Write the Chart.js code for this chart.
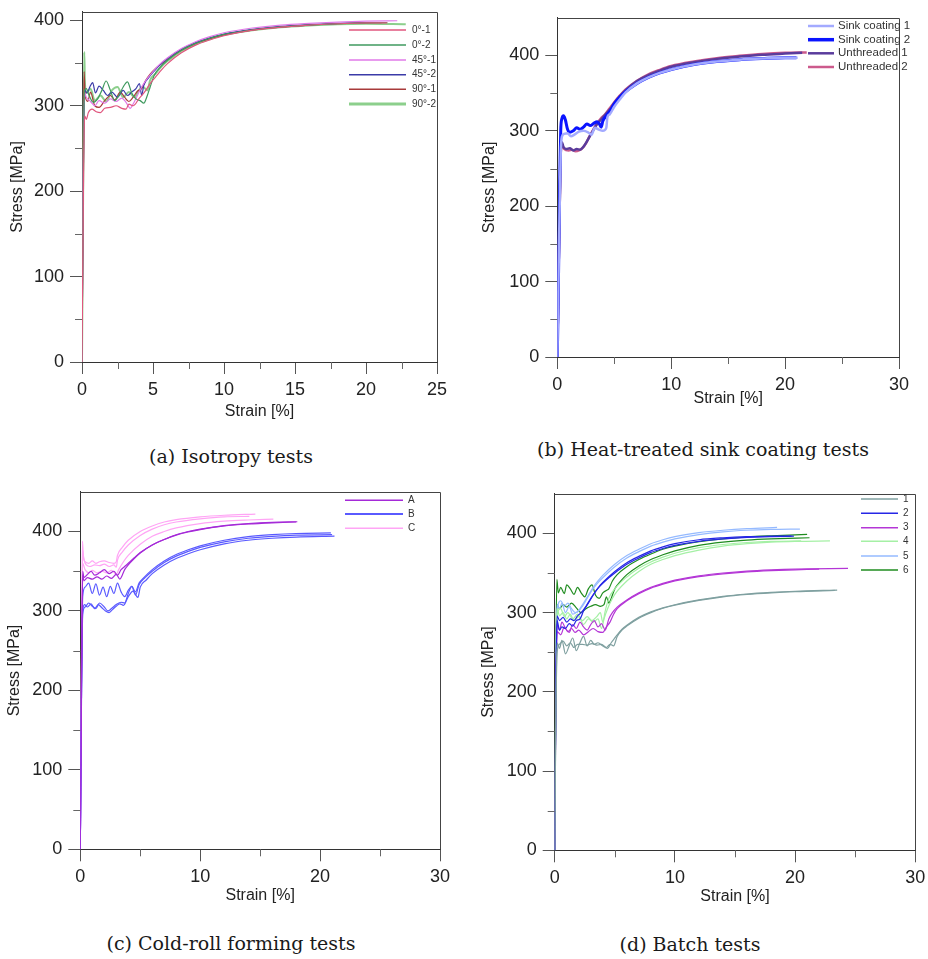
<!DOCTYPE html>
<html>
<head>
<meta charset="utf-8">
<title>Tensile tests</title>
<script src="https://cdn.jsdelivr.net/npm/chart.js@4.4.1/dist/chart.umd.min.js"></script>
<style>
  body { margin: 0; width: 928px; height: 959px; background: #fff; position: relative; overflow: hidden; }
  canvas { position: absolute; }
  .cap { position: absolute; font-family: 'DejaVu Serif', serif; font-size: 19px; color: #1a1a1a;
         white-space: nowrap; transform: translate(-50%, -50%); }
</style>
</head>
<body>
<canvas id="chart-a"></canvas>
<canvas id="chart-b"></canvas>
<canvas id="chart-c"></canvas>
<canvas id="chart-d"></canvas>
<div class="cap" style="left:231px;top:456px">(a) Isotropy tests</div>
<div class="cap" style="left:703px;top:449px">(b) Heat-treated sink coating tests</div>
<div class="cap" style="left:231px;top:943px">(c) Cold-roll forming tests</div>
<div class="cap" style="left:690px;top:944px">(d) Batch tests</div>

<script>
// ---- tick labels ----
var yTicks = [0, 100, 200, 300, 400];
var yMinor = [50, 150, 250, 350];
var xTicksA = [0, 5, 10, 15, 20, 25];
var xMinorA = [2.5, 7.5, 12.5, 17.5, 22.5];
var xTicks30 = [0, 10, 20, 30];
var xMinor30 = [5, 15, 25];

// ---- (a) isotropy tests: [strain %, stress MPa] ----
var iso0_1 = [[0,0],[0.1,200],[0.15,270],[0.2,288],[0.3,284],[0.45,292],[0.7,296],[1.0,293],[1.3,292],[1.6,297],[2.0,298],[2.4,300],[2.8,297],[3.1,296],[3.3,302],[3.6,300],[4.0,308],[4.4,316],[4.8,326],[5.2,334],[5.6,342],[6,349],[7,362],[8,371],[9,377],[10,382],[12,388.5],[14,392],[16,394.5],[18,396],[20,397],[21.5,397]];
var iso0_2 = [[0,0],[0.1,220],[0.17,318],[0.3,320],[0.5,312],[0.8,304],[1.1,308],[1.4,318],[1.7,329],[2.0,318],[2.3,306],[2.6,312],[2.9,322],[3.2,328],[3.5,315],[3.8,308],[4.1,306],[4.35,303],[4.6,312],[4.8,322],[5.1,336],[5.5,345],[6,353],[7,365],[8,373],[9,379],[10,383.5],[12,389],[14,392.5],[16,394.5],[18,396],[20,397],[21.5,397.5]];
var iso45_1 = [[0,0],[0.1,240],[0.18,315],[0.3,310],[0.6,305],[0.9,300],[1.2,306],[1.6,303],[2.0,308],[2.4,305],[2.8,309],[3.1,304],[3.4,297],[3.6,302],[3.9,312],[4.2,322],[4.6,332],[5,340],[5.5,349],[6,356],[7,367],[8,375],[9,381],[10,385.5],[12,391],[14,394.5],[16,396.5],[18,398],[20,399],[22.2,399.5]];
var iso45_2 = [[0,0],[0.1,230],[0.2,318],[0.35,315],[0.55,322],[0.75,327],[0.95,315],[1.2,323],[1.5,318],[1.8,312],[2.1,316],[2.5,310],[2.9,318],[3.2,312],[3.5,316],[3.8,320],[4.05,326],[4.2,312],[4.35,324],[4.7,333],[5,339],[5.5,348],[6,355],[7,366],[8,374],[9,379.5],[10,384],[12,389.5],[14,393],[16,395],[18,396.5],[20,397.5],[21.0,397.5]];
var iso90_1 = [[0,0],[0.1,260],[0.15,340],[0.22,312],[0.4,305],[0.6,316],[0.9,300],[1.2,298],[1.6,306],[2.0,312],[2.3,307],[2.7,316],[3.0,310],[3.3,305],[3.6,310],[3.9,317],[4.2,320],[4.5,330],[4.8,337],[5.2,344],[6,354],[7,365],[8,373],[9,378.5],[10,383],[12,388.5],[14,392],[16,394.5],[18,396],[20,397],[21.1,397.3]];
var iso90_2 = [[0,0],[0.1,250],[0.16,363],[0.2,330],[0.3,315],[0.6,320],[0.9,306],[1.3,312],[1.7,305],[2.1,318],[2.5,322],[2.9,310],[3.3,316],[3.7,310],[4.0,318],[4.3,322],[4.6,318],[4.8,330],[5.2,338],[5.6,346],[6,352],[7,364],[8,372],[9,378],[10,383],[12,388.5],[14,392],[16,394],[18,395.5],[20,396],[22.8,395.5]];

// ---- (b) heat-treated sink coating tests ----
var sink1 = [[0,0],[0.15,150],[0.3,270],[0.4,292],[0.6,296],[0.9,297],[1.2,293],[1.5,295],[1.9,299],[2.3,300],[2.7,298],[3.0,295],[3.3,304],[3.6,302],[4.0,300],[4.3,304],[4.4,318],[4.6,322],[5,332],[5.5,342],[6,351],[7,363],[8,371],[9,377],[10,381.5],[12,388],[14,392],[16,394.5],[18,396],[20,397],[21.1,397]];
var sink2 = [[0,0],[0.1,100],[0.2,220],[0.3,300],[0.4,316],[0.55,320],[0.7,315],[0.9,302],[1.1,298],[1.4,300],[1.7,304],[2.0,302],[2.3,305],[2.6,309],[2.9,307],[3.2,310],[3.5,312],[3.7,309],[3.85,305],[4.0,313],[4.3,320],[4.7,328],[5,336],[5.5,345],[6,352],[7,363],[8,371],[9,377],[10,381.5],[12,388],[14,392],[16,394.5],[18,396],[20,397],[21,397]];
var unthr1 = [[0,0],[0.15,150],[0.3,270],[0.4,285],[0.55,278],[0.8,276],[1.1,277],[1.4,274],[1.7,276],[2.0,275],[2.3,279],[2.6,286],[2.9,294],[3.2,302],[3.5,309],[3.9,316],[4.3,323],[4.7,330],[5,337],[5.5,346],[6,354],[7,366],[8,374],[9,380],[10,385],[12,391],[14,395.5],[16,398.5],[18,401],[20,402.5],[21.5,403.5]];
var unthr2 = [[0,0],[0.15,150],[0.3,268],[0.4,282],[0.6,276],[1.0,274],[1.3,275],[1.6,273],[1.9,274],[2.2,277],[2.5,283],[2.8,292],[3.1,300],[3.4,308],[3.8,316],[4.2,322],[4.6,330],[5,338],[5.5,347],[6,355],[7,366.5],[8,375],[9,381],[10,386],[12,392],[14,396.5],[16,399.5],[18,402],[20,403.5],[21.9,404]];

// ---- (c) cold-roll forming tests ----
var rollA1 = [[0,0],[0.1,200],[0.2,345],[0.3,338],[0.6,342],[1.0,340],[1.4,343],[1.8,340],[2.2,344],[2.6,341],[3.0,346],[3.3,340],[3.5,345],[3.7,352],[4.0,358],[4.5,366],[5,373],[6,383],[7,390],[8,396],[9,400],[10,403],[12,407.5],[14,410],[16,411.5],[18.1,412.3]];
var rollA2 = [[0,0],[0.1,220],[0.2,350],[0.3,342],[0.6,346],[0.9,350],[1.2,345],[1.6,348],[2.0,352],[2.4,347],[2.8,350],[3.1,345],[3.4,352],[3.7,356],[4.0,360],[4.5,367],[5,373.5],[6,383],[7,390],[8,395.5],[9,399.5],[10,402.5],[12,407],[14,409.5],[16,411],[18,412]];
var rollB1 = [[0,0],[0.1,200],[0.2,318],[0.4,330],[0.7,335],[1.0,322],[1.3,334],[1.6,320],[1.9,330],[2.2,318],[2.5,331],[2.8,322],[3.1,335],[3.4,324],[3.7,318],[4.0,326],[4.3,331],[4.6,324],[4.9,335],[5.3,342],[6,352],[7,363],[8,371],[9,377],[10,382],[12,389],[14,393.5],[16,396],[18,397.5],[20.9,398.3]];
var rollB2 = [[0,0],[0.1,200],[0.2,300],[0.35,308],[0.6,305],[0.9,309],[1.2,303],[1.5,308],[1.8,304],[2.1,300],[2.4,298],[2.7,302],[3.0,306],[3.3,309],[3.6,307],[4.0,318],[4.4,325],[4.8,317],[5.0,330],[5.5,339],[6,347],[7,358],[8,366],[9,372],[10,377],[12,384.5],[14,389],[16,391.5],[18,393],[21.2,394.2]];
var rollB3 = [[0,0],[0.1,190],[0.2,296],[0.4,305],[0.7,310],[1.0,306],[1.3,303],[1.6,310],[2.0,305],[2.3,300],[2.6,303],[3.0,308],[3.4,311],[3.7,310],[4.0,322],[4.3,331],[4.6,320],[4.9,333],[5.4,342],[6,350],[7,361],[8,369],[9,375],[10,380],[12,387],[14,391.5],[16,394],[18,395.5],[21.0,396]];
var rollC1 = [[0,0],[0.1,250],[0.18,388],[0.25,370],[0.4,362],[0.7,360],[1.0,363],[1.3,360],[1.6,362],[2.0,363],[2.4,361],[2.8,360],[3.0,362],[3.1,370],[3.5,380],[4,389],[5,400],[6,407],[7,412],[8,415],[10,418.5],[12,420.5],[14.6,422]];
var rollC2 = [[0,0],[0.1,240],[0.2,376],[0.3,365],[0.5,358],[0.8,356],[1.2,358],[1.6,357],[2.0,359],[2.4,356],[2.8,358],[3.0,355],[3.1,364],[3.5,374],[4,383],[5,395],[6,403],[7,408.5],[8,412],[10,416],[12,418.5],[14.1,419]];
var rollC3 = [[0,0],[0.1,230],[0.2,360],[0.4,352],[0.7,348],[1.0,351],[1.4,348],[1.8,350],[2.2,348],[2.6,351],[3.0,346],[3.2,352],[3.6,362],[4,370],[5,384],[6,394],[7,400],[8,404.5],[10,410],[12,413],[14,414.5],[16.1,415.5]];

// ---- (d) batch tests ----
var batch1a = [[0,0],[0.1,180],[0.2,262],[0.4,255],[0.6,265],[0.9,248],[1.2,258],[1.5,268],[1.8,252],[2.1,262],[2.4,270],[2.7,258],[3.0,265],[3.3,260],[3.6,262],[4.0,258],[4.4,255],[4.7,262],[5.0,268],[5.2,272],[5.6,279],[6,284],[7,294],[8,301],[9,306],[10,310],[12,316],[14,320.5],[16,323.5],[18,325.5],[20,327],[23.5,328.5]];
var batch1b = [[0,0],[0.1,170],[0.2,250],[0.4,260],[0.7,264],[1.0,258],[1.3,262],[1.6,256],[1.9,260],[2.3,260],[2.7,259],[3.1,261],[3.5,259],[3.9,260],[4.3,256],[4.6,260],[4.9,258],[5.2,270],[5.6,278],[6,283],[7,293],[8,300],[9,305.5],[10,309.5],[12,315.5],[14,320],[16,323],[18,325],[20,326.5],[23.3,328]];
var batch2a = [[0,0],[0.1,200],[0.2,290],[0.4,278],[0.6,282],[0.9,280],[1.2,286],[1.5,283],[1.8,290],[2.1,292],[2.4,302],[2.8,312],[3.2,322],[3.6,331],[4,338],[5,352],[6,363],[7,371],[8,378],[9,383],[10,387],[12,392],[14,394.5],[16,396],[18,396.5],[19.7,396.7]];
var batch2b = [[0,0],[0.1,210],[0.2,296],[0.4,290],[0.7,294],[1.0,288],[1.3,292],[1.6,290],[1.9,296],[2.2,300],[2.6,308],[3.0,318],[3.4,327],[3.8,334],[4.2,340],[5,350],[6,361],[7,369],[8,376],[9,381],[10,385],[12,390],[14,393],[16,395],[18,396],[19.9,396.5]];
var batch3a = [[0,0],[0.1,200],[0.2,285],[0.4,278],[0.6,288],[0.9,280],[1.2,275],[1.5,285],[1.8,280],[2.1,288],[2.4,282],[2.7,278],[3.0,285],[3.3,290],[3.6,282],[3.9,286],[4.2,278],[4.5,292],[4.8,300],[5.2,307],[6,316],[7,325],[8,332],[9,337],[10,341],[12,346.5],[14,350],[16,352.5],[18,354],[20,355],[24.4,355.8]];
var batch3b = [[0,0],[0.1,190],[0.2,276],[0.5,272],[0.8,282],[1.1,276],[1.4,280],[1.7,275],[2.0,278],[2.4,272],[2.8,276],[3.2,280],[3.6,276],[4.0,275],[4.3,282],[4.6,288],[4.9,298],[5.2,305],[6,315],[7,324],[8,331],[9,336],[10,340],[12,345.5],[14,349],[16,351.5],[18,353],[20,354],[22,355]];
var batch4a = [[0,0],[0.1,220],[0.2,305],[0.4,296],[0.7,300],[1.0,292],[1.3,298],[1.6,290],[2.0,295],[2.4,285],[2.8,292],[3.2,288],[3.6,292],[3.9,280],[4.1,292],[4.4,305],[4.8,318],[5.2,327],[6,340],[7,352],[8,361],[9,367],[10,372],[12,379],[14,384],[16,387],[18,389],[20,390],[22.9,390.5]];
var batch4b = [[0,0],[0.1,210],[0.2,298],[0.5,305],[0.8,295],[1.1,300],[1.5,292],[1.9,298],[2.3,290],[2.7,295],[3.1,290],[3.5,295],[3.8,300],[4.0,288],[4.2,302],[4.5,318],[5,330],[6,345],[7,356],[8,364],[9,370],[10,375],[12,382],[14,386],[16,388.5],[18,390],[20.5,390.5]];
var batch5a = [[0,0],[0.1,230],[0.2,310],[0.4,305],[0.6,312],[0.9,300],[1.2,308],[1.5,298],[1.8,300],[2.0,303],[2.4,312],[2.8,322],[3.2,332],[3.6,340],[4,347],[5,361],[6,372],[7,380],[8,387],[9,392],[10,396],[12,401],[14,404],[16,406],[18.5,407.5]];
var batch5b = [[0,0],[0.1,220],[0.2,302],[0.5,315],[0.8,308],[1.1,312],[1.4,305],[1.7,300],[2.0,302],[2.3,308],[2.7,318],[3.1,328],[3.5,336],[4,344],[5,358],[6,369],[7,377],[8,384],[9,389],[10,393],[12,398.5],[14,402],[16,404],[18,405],[20.4,405.5]];
var batch6a = [[0,0],[0.1,250],[0.18,342],[0.3,325],[0.5,332],[0.8,324],[1.0,335],[1.3,330],[1.6,323],[1.9,332],[2.2,325],[2.5,320],[2.8,330],[3.1,335],[3.4,322],[3.7,318],[4.0,325],[4.3,328],[4.5,330],[4.8,340],[5.2,348],[6,358],[7,367],[8,374],[9,380],[10,384],[12,389.5],[14,393],[16,395.5],[18,397],[21,398.7]];
var batch6b = [[0,0],[0.1,230],[0.2,310],[0.4,305],[0.7,310],[1.0,307],[1.4,312],[1.8,306],[2.2,300],[2.6,305],[3.0,308],[3.4,310],[3.8,308],[4.1,310],[4.3,320],[4.5,312],[4.7,318],[5.0,330],[5.5,340],[6,348],[7,359],[8,367],[9,373],[10,378],[12,385],[14,389],[16,391.5],[18,393],[21.2,394.5]];

// outline of the plot box: top and right edges
var framePlugin = {
  id: 'frame',
  afterDraw: function(chart) {
    var a = chart.chartArea, ctx = chart.ctx;
    ctx.save();
    ctx.strokeStyle = '#444';
    ctx.lineWidth = 1;
    ctx.beginPath();
    ctx.moveTo(a.left, Math.round(a.top) + 0.5);
    ctx.lineTo(Math.round(a.right) + 0.5, Math.round(a.top) + 0.5);
    ctx.lineTo(Math.round(a.right) + 0.5, a.bottom);
    ctx.stroke();
    ctx.restore();
  }
};

// short ticks between the labelled ones
var minorTickPlugin = {
  id: 'minorTicks',
  afterDraw: function(chart, args, opts) {
    var a = chart.chartArea, ctx = chart.ctx;
    var xs = chart.scales.x, ys = chart.scales.y;
    ctx.save();
    ctx.strokeStyle = '#666';
    ctx.lineWidth = 1;
    ctx.beginPath();
    opts.x.forEach(function(v) {
      var px = Math.round(xs.getPixelForValue(v)) + 0.5;
      ctx.moveTo(px, a.bottom);
      ctx.lineTo(px, a.bottom + 7);
    });
    opts.y.forEach(function(v) {
      var py = Math.round(ys.getPixelForValue(v)) + 0.5;
      ctx.moveTo(a.left, py);
      ctx.lineTo(a.left - 7, py);
    });
    ctx.stroke();
    ctx.restore();
  }
};

// legend drawn inside the plot: line sample then label
var curveLegendPlugin = {
  id: 'curveLegend',
  afterDraw: function(chart, args, opts) {
    var ctx = chart.ctx;
    ctx.save();
    ctx.font = opts.fontSize + "px 'Liberation Sans', Arial, sans-serif";
    ctx.textBaseline = 'middle';
    ctx.fillStyle = '#333';
    opts.groups.forEach(function(g, i) {
      var y = opts.rows[i] - opts.top;
      ctx.strokeStyle = g.color;
      ctx.lineWidth = g.legendWidth || g.width;
      ctx.beginPath();
      ctx.moveTo(opts.x0 - opts.left, y);
      ctx.lineTo(opts.x1 - opts.left, y);
      ctx.stroke();
      ctx.fillText(g.label, opts.tx - opts.left, y);
    });
    ctx.restore();
  }
};

function toPoints(curve) {
  return curve.map(function(p) { return { x: p[0], y: p[1] }; });
}

function makePanel(id, p) {
  var xh = 60;
  var yw0 = p.area.l - p.yTitleX + 10.6;
  var cx = Math.floor(p.area.l - yw0);
  var yw = p.area.l - cx;
  var cy = Math.floor(p.area.t - 13);
  var padT = p.area.t - cy;
  var cw = Math.ceil(p.area.r - cx + 18);
  var padR = cw - (p.area.r - cx);
  var ch = Math.ceil(p.area.b - cy + xh + 6);
  var padB = ch - (p.area.b - cy) - xh;

  var canvas = document.getElementById(id);
  canvas.width = cw;
  canvas.height = ch;
  canvas.style.left = cx + 'px';
  canvas.style.top = cy + 'px';

  var datasets = [];
  p.groups.forEach(function(g) {
    g.curves.forEach(function(c) {
      datasets.push({
        label: g.label,
        data: toPoints(c),
        borderColor: g.color,
        borderWidth: g.width,
        pointRadius: 0,
        fill: false,
        cubicInterpolationMode: 'monotone'
      });
    });
  });

  var tickFont = { family: "'Liberation Sans', Arial, sans-serif", size: 18 };
  var titleFont = { family: "'Liberation Sans', Arial, sans-serif", size: 16 };

  return new Chart(canvas.getContext('2d'), {
    type: 'line',
    data: { datasets: datasets },
    options: {
      responsive: false,
      animation: false,
      devicePixelRatio: 1,
      events: [],
      layout: { padding: { left: 0, top: padT, right: padR, bottom: padB } },
      plugins: {
        legend: { display: false },
        tooltip: { enabled: false },
        minorTicks: { x: p.xMinor, y: yMinor },
        curveLegend: {
          groups: p.groups, rows: p.legend.rows, x0: p.legend.x0, x1: p.legend.x1,
          tx: p.legend.tx, fontSize: p.legend.fontSize, left: cx, top: cy
        }
      },
      scales: {
        x: {
          type: 'linear',
          min: 0,
          max: p.xMax,
          afterBuildTicks: function(axis) { axis.ticks = p.xTicks.map(function(v) { return { value: v }; }); },
          afterFit: function(axis) { axis.height = xh; },
          grid: { drawOnChartArea: false, drawTicks: true, tickLength: 12, color: '#555' },
          border: { display: true, color: '#333' },
          ticks: { font: tickFont, color: '#222', padding: 5, maxRotation: 0 },
          title: {
            display: true, text: 'Strain [%]', font: titleFont, color: '#222',
            padding: { top: 0, bottom: p.area.b + xh - 9.6 - p.xTitleY }
          }
        },
        y: {
          type: 'linear',
          min: 0,
          max: p.yMax,
          afterBuildTicks: function(axis) { axis.ticks = yTicks.map(function(v) { return { value: v }; }); },
          afterFit: function(axis) { axis.width = yw; },
          grid: { drawOnChartArea: false, drawTicks: true, tickLength: 12, color: '#555' },
          border: { display: true, color: '#333' },
          ticks: { font: tickFont, color: '#222', padding: 6 },
          title: {
            display: true, text: 'Stress [MPa]', font: titleFont, color: '#222',
            padding: { top: p.yTitleX - cx - 9.6, bottom: 0 }
          }
        }
      }
    },
    plugins: [framePlugin, minorTickPlugin, curveLegendPlugin]
  });
}

makePanel('chart-a', {
  area: { l: 82, t: 8, r: 437, b: 362 },
  xMax: 25, yMax: 410, xTicks: xTicksA, xMinor: xMinorA,
  xTitleY: 411.7, yTitleX: 18,
  legend: { rows: [30, 45, 60, 74.7, 89.3, 104], x0: 349, x1: 406, tx: 412, fontSize: 10 },
  groups: [
    { label: '0°-1', color: '#e0567e', width: 1.2, legendWidth: 1.5, curves: [iso0_1] },
    { label: '0°-2', color: '#3f9a5f', width: 1.2, legendWidth: 1.5, curves: [iso0_2] },
    { label: '45°-1', color: '#e07ae8', width: 1.2, legendWidth: 1.5, curves: [iso45_1] },
    { label: '45°-2', color: '#3b3ba8', width: 1.2, legendWidth: 1.5, curves: [iso45_2] },
    { label: '90°-1', color: '#a83a3a', width: 1.2, legendWidth: 1.5, curves: [iso90_1] },
    { label: '90°-2', color: '#8ccf8c', width: 2, legendWidth: 3, curves: [iso90_2] }
  ]
});

makePanel('chart-b', {
  area: { l: 557.3, t: 14.7, r: 899, b: 357 },
  xMax: 30, yMax: 450, xTicks: xTicks30, xMinor: xMinor30,
  xTitleY: 398.5, yTitleX: 490,
  legend: { rows: [26, 39.7, 53.3, 67], x0: 808, x1: 834, tx: 838, fontSize: 11.5 },
  groups: [
    { label: 'Sink coating 1', color: '#a3aaff', width: 2.5, curves: [sink1] },
    { label: 'Sink coating 2', color: '#0a14ff', width: 3, legendWidth: 3.5, curves: [sink2] },
    { label: 'Unthreaded 1', color: '#5a3c9c', width: 2.5, curves: [unthr1] },
    { label: 'Unthreaded 2', color: '#cc5a8c', width: 2.5, curves: [unthr2] }
  ]
});

makePanel('chart-c', {
  area: { l: 80.3, t: 488.7, r: 440, b: 849.3 },
  xMax: 30, yMax: 450, xTicks: xTicks30, xMinor: xMinor30,
  xTitleY: 896, yTitleX: 15,
  legend: { rows: [500.3, 514, 528.3], x0: 345, x1: 403, tx: 408, fontSize: 10 },
  groups: [
    { label: 'A', color: '#a52ad8', width: 1.2, legendWidth: 1.5, curves: [rollA1, rollA2] },
    { label: 'B', color: '#5a5aff', width: 1.2, legendWidth: 2, curves: [rollB1, rollB2, rollB3] },
    { label: 'C', color: '#ffa5f5', width: 1.2, legendWidth: 1.5, curves: [rollC1, rollC2, rollC3] }
  ]
});

makePanel('chart-d', {
  area: { l: 554.7, t: 490.3, r: 915.3, b: 850.3 },
  xMax: 30, yMax: 450, xTicks: xTicks30, xMinor: xMinor30,
  xTitleY: 897, yTitleX: 489,
  legend: { rows: [499, 513.3, 527.7, 541.3, 556, 570], x0: 861, x1: 898, tx: 903, fontSize: 10 },
  groups: [
    { label: '1', color: '#7fa0a0', width: 1.2, legendWidth: 1.5, curves: [batch1a, batch1b] },
    { label: '2', color: '#2626e6', width: 1.2, legendWidth: 1.5, curves: [batch2a, batch2b] },
    { label: '3', color: '#b436d6', width: 1.2, legendWidth: 1.5, curves: [batch3a, batch3b] },
    { label: '4', color: '#a5f0a5', width: 1.2, legendWidth: 1.5, curves: [batch4a, batch4b] },
    { label: '5', color: '#95baff', width: 1.2, legendWidth: 1.5, curves: [batch5a, batch5b] },
    { label: '6', color: '#1f8c1f', width: 1.2, legendWidth: 1.5, curves: [batch6a, batch6b] }
  ]
});
</script>
</body>
</html>
